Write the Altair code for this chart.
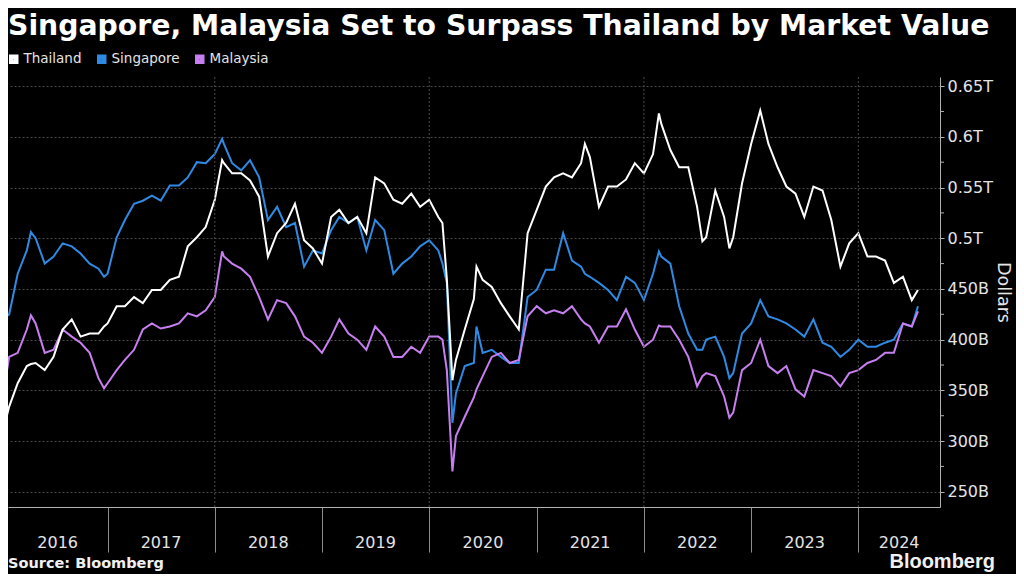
import altair as alt
import pandas as pd

# ---------------- data (billions of US dollars) ----------------
d2016 = ["2016-01-01", "2016-01-18", "2016-02-01", "2016-03-01", "2016-04-01", "2016-04-15",
         "2016-05-01", "2016-06-01", "2016-07-01", "2016-08-01", "2016-09-01", "2016-10-01",
         "2016-11-01", "2016-12-01", "2016-12-20"]
d2017 = [f"2017-{m:02d}-01" for m in range(1, 13)]
d2018 = ["2018-01-01", "2018-01-26"] + [f"2018-{m:02d}-01" for m in range(2, 13)]
d2019 = [f"2019-{m:02d}-01" for m in range(1, 13)]
d2020 = ["2020-01-01", "2020-02-01", "2020-02-15", "2020-03-01", "2020-03-20",
         "2020-04-01", "2020-05-01", "2020-06-01", "2020-06-10", "2020-07-01",
         "2020-08-01", "2020-09-01", "2020-10-01", "2020-11-01", "2020-12-01"]
d2021 = [f"2021-{m:02d}-01" for m in range(1, 7)] + ["2021-06-14"] + [f"2021-{m:02d}-01" for m in range(7, 13)]
d2022 = ["2022-01-01", "2022-02-01", "2022-02-21", "2022-03-01", "2022-04-01", "2022-05-01",
         "2022-06-01", "2022-07-01", "2022-07-19", "2022-08-01", "2022-09-01", "2022-10-01",
         "2022-10-19", "2022-11-01", "2022-12-01"]
d2023 = [f"2023-{m:02d}-01" for m in range(1, 13)]
d2024 = [f"2024-{m:02d}-01" for m in range(1, 8)] + ["2024-07-22"]
dates = d2016 + d2017 + d2018 + d2019 + d2020 + d2021 + d2022 + d2023 + d2024

thailand = [
    330, 318, 334, 357, 374, 376, 377, 370, 383, 410, 420, 403, 406, 406, 413,
    416, 433, 433, 442, 436, 449, 449, 459, 462, 492, 501, 511,
    538, 577, 574, 564, 564, 557, 541, 482, 505, 515, 534, 498, 490,
    475, 521, 528, 515, 521, 505, 560, 554, 538, 534, 544, 531,
    538, 521, 515, 460, 360, 380, 410, 440, 472, 459, 452, 436, 423, 410, 505,
    528, 551, 560, 564, 560, 574, 593, 580, 531, 551, 551, 558, 574,
    564, 583, 623, 613, 587, 570, 570, 531, 497, 501, 547, 521, 490, 501, 554,
    593, 626, 593, 570, 551, 544, 521, 551, 547, 518, 472, 495,
    505, 482, 482, 478, 456, 462, 439, 449,
]
singapore = [
    465, 422, 425, 465, 488, 506, 500, 475, 482, 495, 492, 485, 475, 470, 462,
    465, 501, 518, 534, 537, 542, 537, 552, 552, 560, 575, 574,
    583, 598, 593, 574, 567, 577, 560, 518, 531, 511, 515, 472, 488,
    485, 508, 521, 515, 521, 488, 518, 508, 465, 475, 482, 492,
    498, 488, 475, 456, 318, 347, 374, 377, 413, 387, 390, 383, 377, 377, 442,
    449, 469, 469, 505, 478, 472, 465, 462, 456, 449, 439, 462, 456,
    439, 465, 487, 482, 475, 433, 406, 390, 390, 400, 403, 383, 362, 367, 406,
    416, 439, 423, 420, 416, 410, 403, 420, 397, 393, 383, 390,
    400, 393, 393, 397, 400, 416, 413, 433,
]
malaysia = [
    380, 358, 383, 387, 410, 424, 416, 387, 390, 410, 403, 397, 387, 362, 352,
    357, 370, 380, 390, 410, 416, 411, 413, 416, 426, 423, 429,
    442, 487, 482, 475, 470, 462, 442, 420, 439, 436, 423, 403, 397,
    387, 403, 420, 406, 400, 390, 413, 403, 383, 383, 393, 387,
    403, 403, 400, 370, 270, 305, 324, 343, 351, 364, 383, 387, 377, 380, 423,
    433, 426, 429, 426, 433, 420, 416, 413, 397, 413, 413, 430, 410,
    393, 400, 414, 413, 413, 400, 383, 354, 364, 367, 364, 344, 323, 328, 370,
    377, 400, 374, 367, 374, 351, 344, 370, 367, 364, 354, 367,
    370, 377, 380, 387, 387, 416, 413, 428,
]

series_names = ["Thailand", "Singapore", "Malaysia"]
series_colors = ["#ffffff", "#2f8ae4", "#c77ff0"]
years = list(range(2016, 2025))
y_major = [250, 300, 350, 400, 450, 500, 550, 600, 650]
y_minor = [275, 325, 375, 425, 475, 525, 575, 625]
grid_years = ["2018-01-01", "2020-01-01", "2022-01-01", "2024-01-01"]
x_start = "2016-01-28"
x_end = "2024-10-05"

# ---------------- tables ----------------
rows = []
for name, vals in [("Singapore", singapore), ("Malaysia", malaysia), ("Thailand", thailand)]:
    for d, v in zip(dates, vals):
        rows.append({"date": d, "value": v, "series": name})
df = pd.DataFrame(rows)

t0, t1 = pd.Timestamp(x_start), pd.Timestamp(x_end)
label_dates = []
for yr in years:
    a = max(pd.Timestamp(f"{yr}-01-01"), t0)
    b = min(pd.Timestamp(f"{yr + 1}-01-01"), t1)
    label_dates.append((a + (b - a) / 2).strftime("%Y-%m-%d"))
year_df = pd.DataFrame({"date": label_dates, "label": [str(y) for y in years]})
grid_df = pd.DataFrame({"date": grid_years})
minor_df = pd.DataFrame({"value": y_minor})

W, H = 932, 430
FONT = "DejaVu Sans"
TXT = "#e4e4e4"
AX = "#b0b0b0"

xscale = alt.Scale(type="utc",
                   domain=[alt.DateTime(year=2016, month=1, date=28, utc=True),
                           alt.DateTime(year=2024, month=10, date=5, utc=True)])
yscale = alt.Scale(domain=[235, 659], nice=False, zero=False)

xaxis = alt.Axis(values=[alt.DateTime(year=y, month=1, date=1, utc=True) for y in years[1:]],
                 labels=False, ticks=True, tickSize=45, tickColor="#8c8c8c",
                 domainColor=AX, grid=False, title=None)
yaxis = alt.Axis(orient="right", values=y_major,
                 labelExpr="datum.value >= 500 ? (datum.value / 1000) + 'T' : datum.value + 'B'",
                 grid=True, gridDash=[2, 2], gridColor="#4a4a4a",
                 tickSize=4, tickColor=AX, domainColor=AX,
                 labelColor=TXT, labelFontSize=16, labelFont=FONT, labelPadding=3,
                 title="Dollars", titleFontSize=17.5, titleFontWeight="normal",
                 titleColor=TXT, titleFont=FONT, titlePadding=1)
X = alt.X("date:T", scale=xscale, axis=xaxis)
Y = alt.Y("value:Q", scale=yscale, axis=yaxis)

lines = alt.Chart(df).mark_line(strokeWidth=2, clip=True).encode(
    x=X, y=Y,
    color=alt.Color("series:N", scale=alt.Scale(domain=series_names, range=series_colors),
                    legend=alt.Legend(orient="none", legendX=-1, legendY=-25, direction="horizontal",
                                      title=None, symbolType="square", symbolSize=25,
                                      symbolStrokeWidth=4.5, labelFontSize=13.5, labelFont=FONT,
                                      labelColor=TXT, columnPadding=8, labelOffset=3)),
    detail="series:N",
)

vgrid = alt.Chart(grid_df).mark_rule(strokeDash=[2, 2], color="#4a4a4a", strokeWidth=1).encode(x=X)

minor = alt.Chart(minor_df).mark_rule(color=AX, strokeWidth=1).encode(
    y=Y, x=alt.value(W), x2=alt.value(W + 4))

year_labels = alt.Chart(year_df).mark_text(font=FONT, fontSize=16, color=TXT, baseline="alphabetic").encode(
    x=X, y=alt.value(H + 41), text="label:N")

source = alt.Chart(pd.DataFrame({"t": ["Source:  Bloomberg"]})).mark_text(
    font=FONT, fontSize=14.5, fontWeight="bold", color="#f0f0f0", align="left", baseline="alphabetic"
).encode(x=alt.value(0), y=alt.value(H + 61), text="t:N")

brand = alt.Chart(pd.DataFrame({"t": ["Bloomberg"]})).mark_text(
    font="Liberation Sans", fontSize=20, fontWeight="bold", color="#f0f0f0", align="right", baseline="alphabetic"
).encode(x=alt.value(W + 55), y=alt.value(H + 61), text="t:N")

chart = alt.layer(lines, vgrid, minor, year_labels, source, brand).properties(
    width=W, height=H,
    autosize=alt.AutoSizeParams(type="none"),
    padding={"left": 0, "top": 69, "right": 76, "bottom": 67},
    background="#000000",
    title=alt.TitleParams(text="Singapore, Malaysia Set to Surpass Thailand by Market Value",
                          anchor="start", frame="group", font=FONT, fontSize=28.3, fontWeight="bold",
                          color="#ffffff", offset=11),
).configure_view(stroke=None).configure_axis(domainWidth=1, tickWidth=1)

chart.save("out.html", embed_options={"renderer": "svg", "actions": False})
